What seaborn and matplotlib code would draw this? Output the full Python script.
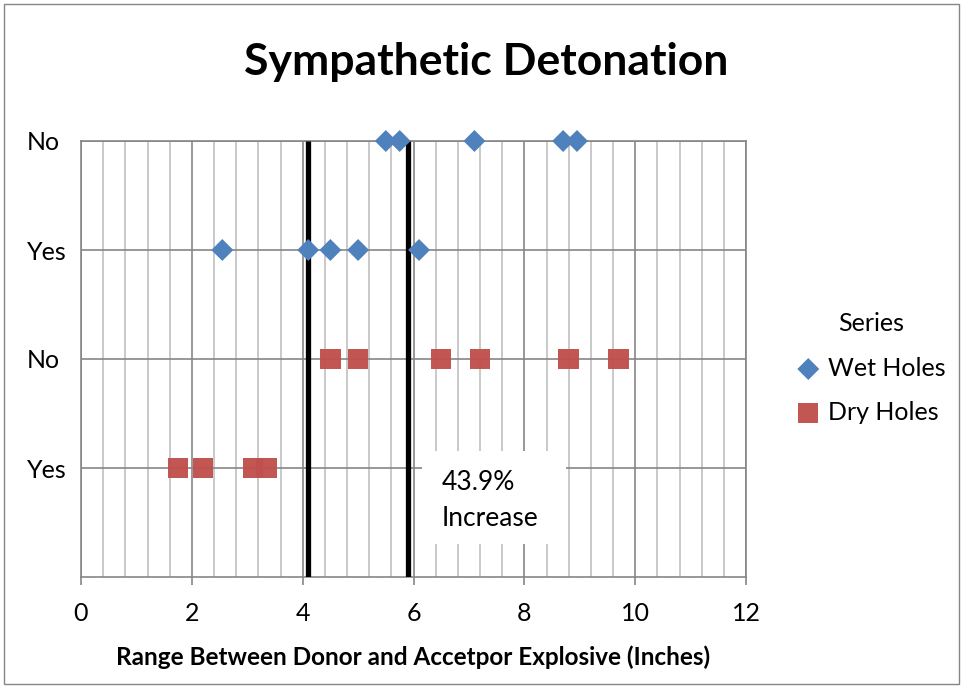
import numpy as np
import pandas as pd
import matplotlib
matplotlib.use('Agg')
import matplotlib.pyplot as plt
import seaborn as sns
from matplotlib.patches import Rectangle
from matplotlib.ticker import MultipleLocator

# 数据：爆炸距离 (inches) 与 是否殉爆 (No / Yes)
wet_range = [5.5, 5.75, 7.1, 8.7, 8.95, 2.55, 4.1, 4.5, 5.0, 6.1]
wet_level = [4, 4, 4, 4, 4, 3, 3, 3, 3, 3]
dry_range = [4.5, 5.0, 6.5, 7.2, 8.8, 9.7, 1.75, 2.2, 3.1, 3.35]
dry_level = [2, 2, 2, 2, 2, 2, 1, 1, 1, 1]
level_ticks = [1, 2, 3, 4]
level_labels = ['Yes', 'No', 'Yes', 'No']
x_ticks = [0, 2, 4, 6, 8, 10, 12]
threshold = [4.1, 5.9]
note = ['43.9%', 'Increase']

blue = '#4F81BD'
red = '#C0504D'
grid_dark = '#868686'
grid_light = '#C0C0C0'

sns.set_style('white')
plt.rcParams['font.family'] = ['Lato', 'DejaVu Sans']
plt.rcParams['text.color'] = 'black'
plt.rcParams['xtick.labelcolor'] = 'black'
plt.rcParams['ytick.labelcolor'] = 'black'
plt.rcParams['axes.labelcolor'] = 'black'

wet = pd.DataFrame({'range': wet_range, 'level': wet_level})
dry = pd.DataFrame({'range': dry_range, 'level': dry_level})

fig = plt.figure(figsize=(9.63, 6.88), dpi=100)
ax = fig.add_axes([81/963, 1-577/688, (746-81)/963, (577-141)/688])

sns.scatterplot(data=wet, x='range', y='level', marker='D', s=125, color=blue,
                edgecolor='none', label='Wet Holes', ax=ax, zorder=5, clip_on=False)
sns.scatterplot(data=dry, x='range', y='level', marker='s', s=215, color=red,
                edgecolor='none', label='Dry Holes', ax=ax, zorder=5, alpha=0.97)

# 两条阈值线
ax.vlines(threshold, 0, 4, colors='black', lw=3.8, zorder=4)

# 注释框
ax.add_patch(Rectangle((6.15, 0.30), 2.6, 0.856, facecolor='white',
                       edgecolor='none', zorder=3))
ax.text(6.5, 0.87, note[0], fontsize=19, va='center', ha='left', zorder=6)
ax.text(6.5, 0.54, note[1], fontsize=19, va='center', ha='left', zorder=6)

ax.set_xlim(0, 12)
ax.set_ylim(0, 4)
ax.set_xticks(x_ticks)
ax.xaxis.set_minor_locator(MultipleLocator(0.4))
ax.set_yticks(level_ticks)
ax.set_yticklabels(level_labels)
for lab in ax.get_yticklabels():
    lab.set_horizontalalignment('left')

ax.grid(which='major', axis='both', color=grid_dark, lw=1.2)
ax.grid(which='minor', axis='x', color=grid_light, lw=1.2)
ax.set_axisbelow(True)
for sp in ax.spines.values():
    sp.set_color(grid_dark)
    sp.set_linewidth(1.2)

ax.tick_params(axis='x', which='major', direction='out', length=6, width=1.2,
               color=grid_dark, labelsize=18, pad=12, bottom=True)
ax.tick_params(axis='x', which='minor', length=0)
ax.tick_params(axis='y', length=0, labelsize=18, pad=39)

ax.set_xlabel('Range Between Donor and Accetpor Explosive (Inches)',
              fontsize=17.5, fontweight='bold', labelpad=15)
ax.set_ylabel('')

ax.legend(title='Series', loc='center left', bbox_to_anchor=(0.803, 0.465),
          bbox_transform=fig.transFigure, frameon=False, fontsize=18,
          title_fontsize=18, handlelength=1.0, handletextpad=0.3,
          labelspacing=0.85)

fig.text(0.505, 0.91, 'Sympathetic Detonation', fontsize=32, fontweight='bold',
         ha='center', va='center')

fig.add_artist(Rectangle((0.004, 0.006), 0.992, 0.988, transform=fig.transFigure,
                         fill=False, edgecolor=grid_dark, lw=1))

fig.savefig('out.png', dpi=100)
